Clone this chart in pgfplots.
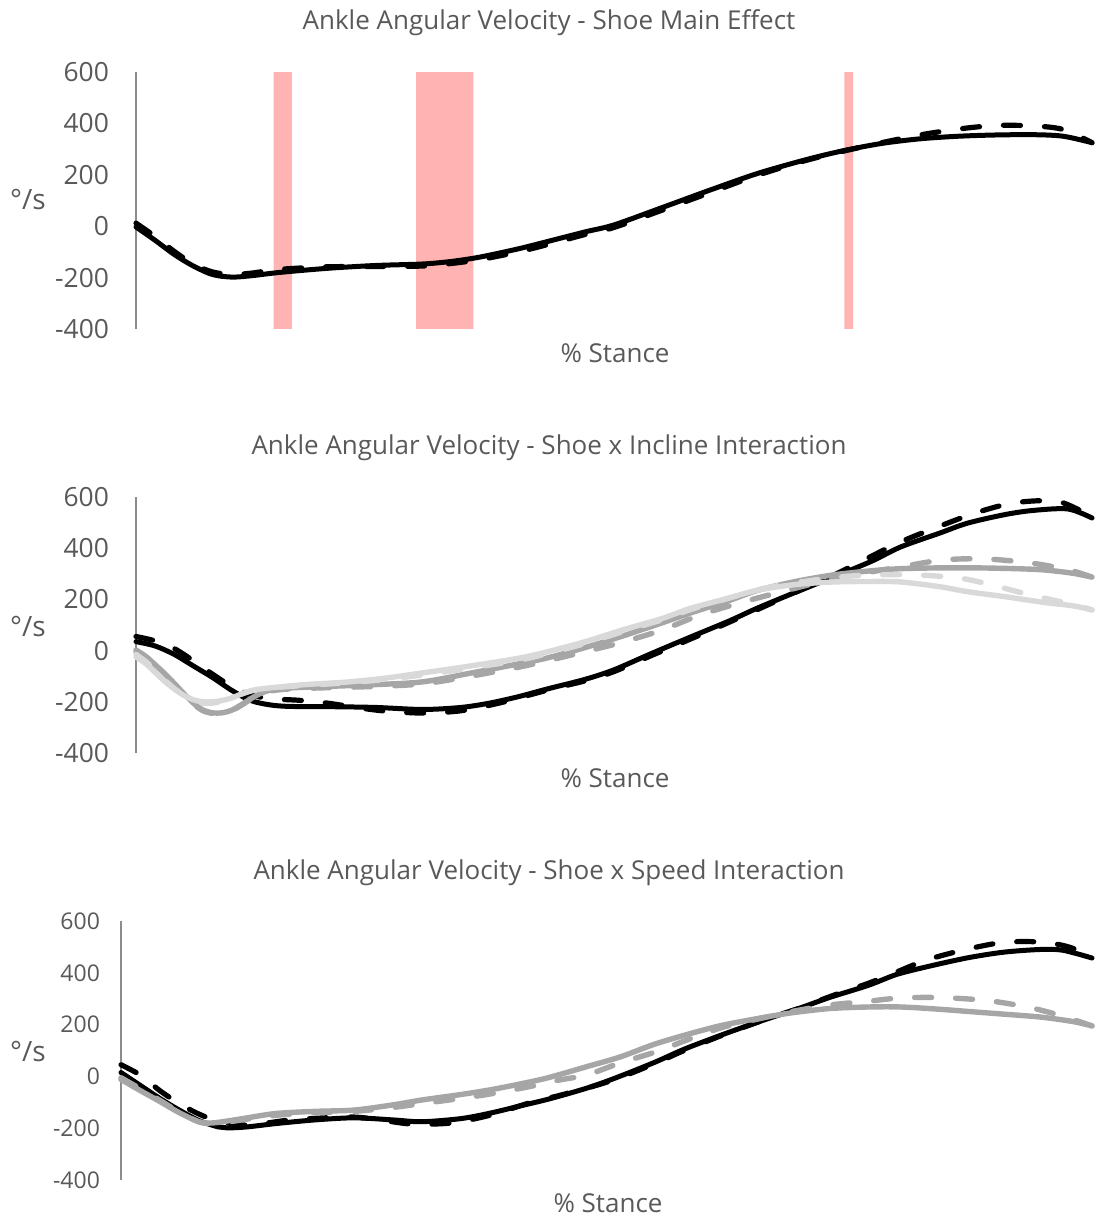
\documentclass[border=0pt]{standalone}
\usepackage{pgfplots}
\pgfplotsset{compat=1.18}
\usepackage{fontspec}
\setmainfont{Open Sans}
\definecolor{txt}{HTML}{595959}
\definecolor{axl}{HTML}{8C8C8C}
\definecolor{band}{HTML}{FFB3B3}
\definecolor{mgray}{HTML}{A6A6A6}
\definecolor{lgray}{HTML}{D9D9D9}
\pgfplotsset{
  panel/.style={
    scale only axis, clip=false,
    xmin=0, xmax=100, ymin=-400, ymax=600,
    axis x line=none, axis y line=left,
    axis line style={axl, line width=1pt, -},
    ytick={-400,-200,0,200,400,600},
    yticklabels={-400,-200,0,200,400,600},
    major tick length=0pt,
    yticklabel style={text=txt, font=\fontsize{13.2}{15}\selectfont, xshift=-10pt},
  },
  sol/.style={smooth, line width=2.5pt, line cap=round, line join=round},
  dsh/.style={smooth, line width=2.6pt, line cap=round, line join=round, dash pattern=on 8.5pt off 12pt},
}
\begin{document}
\begin{tikzpicture}
\useasboundingbox (0,0) rectangle (549.5pt,608.5pt);
% titles and labels
\tikzset{lab/.style={text=txt, font=\fontsize{13}{15}\selectfont, inner sep=0pt}}
\node[lab] at (274.5pt,597pt) {Ankle Angular Velocity - Shoe Main Effect};
\node[lab] at (274.5pt,384.5pt) {Ankle Angular Velocity - Shoe x Incline Interaction};
\node[lab] at (274.5pt,172pt) {Ankle Angular Velocity - Shoe x Speed Interaction};
\node[lab] at (307.5pt,432pt) {\% Stance};
\node[lab] at (307.5pt,219.5pt) {\% Stance};
\node[lab] at (304pt,7pt) {\% Stance};
\node[lab, font=\fontsize{14}{16}\selectfont] at (14pt,508.5pt) {°/s};
\node[lab, font=\fontsize{14}{16}\selectfont] at (14pt,295pt) {°/s};
\node[lab, font=\fontsize{14}{16}\selectfont] at (14pt,82.5pt) {°/s};

% Panel 1
\begin{axis}[panel, at={(68pt,444pt)}, anchor=south west, width=478pt, height=128.5pt]
\addplot[fill=band, draw=none] coordinates {(14.4,-400) (16.3,-400) (16.3,600) (14.4,600)} \closedcycle;
\addplot[fill=band, draw=none] coordinates {(29.3,-400) (35.3,-400) (35.3,600) (29.3,600)} \closedcycle;
\addplot[fill=band, draw=none] coordinates {(74.1,-400) (75.0,-400) (75.0,600) (74.1,600)} \closedcycle;
\addplot[sol, black] coordinates {(0,-3) (2,-55) (4,-110) (6,-155) (8,-188) (10,-198) (12,-193) (15,-180) (20,-164) (25,-153) (30,-147) (33,-137) (36,-120) (40,-88) (43,-60) (47,-22) (50,5) (55,72) (60,140) (65,205) (70,258) (74,294) (78,322) (82,340) (86,350) (90,355) (94,356) (97,350) (100,325)};
\addplot[dsh, black] coordinates {(0,12) (2,-40) (4,-98) (6,-148) (8,-178) (10,-188) (12,-183) (15,-168) (20,-158) (25,-157) (30,-155) (33,-145) (36,-130) (40,-100) (43,-72) (47,-32) (50,-5) (55,62) (60,130) (65,198) (70,255) (74,292) (78,325) (82,355) (86,378) (90,392) (94,390) (97,376) (100,325)};
\end{axis}

% Panel 2
\begin{axis}[panel, at={(68pt,232pt)}, anchor=south west, width=478pt, height=128pt]
\addplot[sol, black] coordinates {(0,35) (2,18) (4,-15) (6,-60) (8,-105) (10,-155) (12,-195) (14,-212) (16,-218) (20,-219) (25,-222) (30,-230) (34,-222) (37,-205) (40,-180) (43,-150) (47,-112) (50,-75) (54,-10) (58,53) (62,115) (65,166) (69,228) (73,288) (77,350) (80,405) (84,458) (87,498) (91,532) (94,548) (97.5,553) (100,518)};
\addplot[dsh, black] coordinates {(0,55) (2,38) (4,8) (6,-40) (8,-92) (10,-140) (12,-172) (14,-188) (17,-194) (20,-205) (23,-222) (26,-236) (30,-244) (34,-235) (38,-205) (41,-175) (44,-145) (47,-118) (50,-82) (54,-18) (58,45) (62,110) (65,160) (69,228) (73,295) (77,370) (80,425) (84,485) (88,540) (92,578) (96.5,582) (100,522)};
\addplot[sol, mgray, line width=2.7pt] coordinates {(0,2) (1,-22) (2,-55) (3,-90) (4,-128) (5,-168) (6,-205) (7,-232) (8,-243) (9,-243) (10,-233) (11,-212) (12,-188) (13,-168) (14,-155) (16,-146) (20,-140) (25,-133) (30,-122) (35,-88) (40,-52) (43,-29) (47,12) (51,58) (55,108) (58,147) (62,195) (65,235) (69,270) (73,296) (77,312) (80,320) (84,323) (88,323) (92,320) (95,315) (98,302) (100,287)};
\addplot[dsh, mgray, line width=2.7pt] coordinates {(0,-5) (1,-30) (2,-62) (3,-97) (4,-133) (5,-172) (6,-208) (7,-235) (8,-245) (9,-244) (10,-235) (11,-214) (12,-190) (13,-170) (14,-158) (16,-150) (20,-145) (25,-140) (30,-130) (35,-100) (40,-65) (43,-40) (46,-13) (50.6,30) (55,80) (59,139) (63.5,190) (69,244) (73,280) (77,308) (80,327) (84.4,354) (88.8,358) (93.6,342) (97.6,315) (100,287)};
\addplot[sol, lgray, line width=2.7pt] coordinates {(0,-25) (1,-50) (2,-85) (3,-120) (4,-150) (5,-175) (6,-192) (7,-200) (8,-200) (9,-195) (10,-185) (11,-170) (12,-157) (13,-150) (15,-142) (18,-132) (22,-123) (26,-108) (30,-87) (35,-60) (40,-30) (43,-5) (47,35) (51,82) (55,125) (58,165) (62,205) (65,236) (69,258) (73,268) (77,270) (80,268) (84,250) (87,230) (91,210) (95,188) (98,175) (100,159)};
\addplot[dsh, lgray, line width=2.7pt] coordinates {(0,-15) (1,-42) (2,-78) (3,-115) (4,-148) (5,-175) (6,-195) (7,-205) (8,-205) (9,-198) (10,-185) (11,-170) (12,-158) (13,-150) (15,-143) (18,-135) (22,-126) (26,-113) (30,-95) (35,-68) (40,-38) (43,-12) (47,28) (51,75) (55,120) (58,160) (62,205) (65,238) (69,265) (73,285) (76,294) (80,297) (83,293) (86,284) (88,270) (90,252) (92,232) (95,205) (98,180) (100,159)};
\end{axis}

% Panel 3
\begin{axis}[panel, at={(60.5pt,18.5pt)}, anchor=south west, width=485.5pt, height=129.5pt,
  yticklabel style={font=\fontsize{11.5}{13}\selectfont, xshift=3pt}]
\addplot[sol, black] coordinates {(0,15) (2,-35) (4,-85) (6,-130) (8,-170) (10,-195) (11,-199) (13,-195) (16,-182) (20,-168) (24,-160) (28,-168) (31,-175) (35,-163) (38,-142) (41,-115) (44,-88) (48,-45) (51,-5) (55,55) (58,105) (62,162) (66,215) (70,265) (73,305) (77,352) (80,395) (84,432) (87.5,460) (91,480) (94.7,490) (97,487) (100,457)};
\addplot[dsh, black] coordinates {(0,45) (2,5) (4,-55) (6,-105) (8,-145) (10,-172) (13,-188) (17,-170) (20,-162) (24,-157) (27,-170) (30,-184) (34,-180) (38,-150) (42,-103) (45,-75) (48,-45) (51,-10) (55,50) (58,100) (62,160) (66,215) (70,265) (73,308) (77,360) (80,405) (83,450) (87,490) (91,518) (95,518) (98,495) (100,449)};
\addplot[sol, mgray, line width=2.7pt] coordinates {(0,-12) (2,-55) (4,-97) (6,-140) (8,-175) (9.3,-180) (11,-172) (13,-160) (16,-143) (20,-135) (24,-130) (28,-110) (31,-91) (35,-70) (38,-52) (41,-30) (44,-5) (48,38) (51.4,75) (55,125) (58.6,165) (62,198) (65.8,225) (69,245) (73,262) (77,268) (80.3,268) (84,260) (87.5,250) (91,240) (94.7,229) (98,212) (100,195)};
\addplot[dsh, mgray, line width=2.7pt] coordinates {(0,-5) (2,-48) (4,-92) (6,-138) (8,-175) (9.3,-182) (11,-176) (13,-165) (16,-150) (20,-140) (24,-135) (28,-120) (31,-105) (35,-85) (38,-68) (42,-40) (45,-15) (48,6) (51.4,52) (55,94) (58.6,145) (62,190) (66,225) (69,250) (73.1,276) (76.7,289) (80.3,303) (84.7,304) (89.4,292) (93.7,265) (97,232) (100,195)};
\end{axis}
\end{tikzpicture}
\end{document}
